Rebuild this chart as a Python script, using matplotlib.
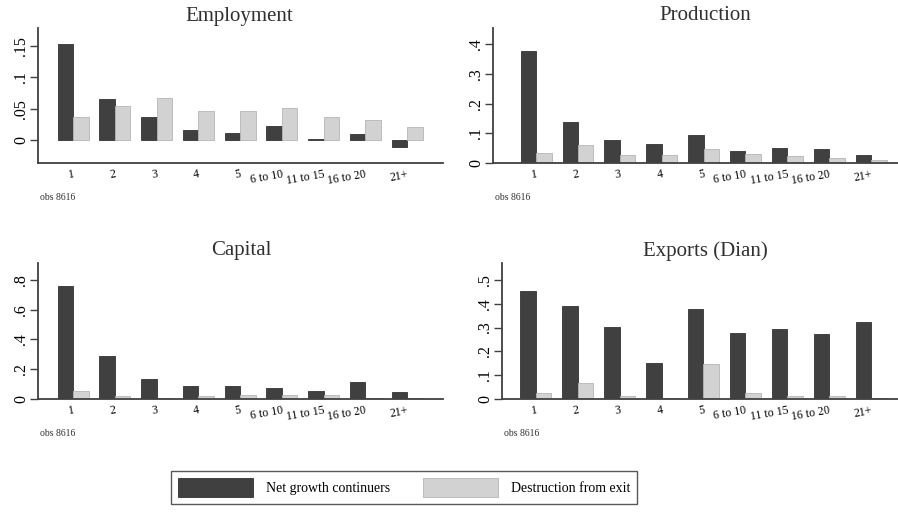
import numpy as np
import matplotlib.pyplot as plt
from matplotlib.patches import Patch

plt.rcParams['font.family'] = ['Liberation Serif', 'DejaVu Serif']

cats = ["1", "2", "3", "4", "5", "6 to 10", "11 to 15", "16 to 20", "21+"]

emp_net = [0.153, 0.065, 0.037, 0.0165, 0.012, 0.022, 0.002, 0.010, -0.011]
emp_exit = [0.036, 0.055, 0.067, 0.046, 0.046, 0.051, 0.036, 0.032, 0.021]

prod_net = [0.379, 0.138, 0.077, 0.065, 0.095, 0.042, 0.052, 0.047, 0.027]
prod_exit = [0.035, 0.060, 0.027, 0.027, 0.048, 0.030, 0.022, 0.018, 0.010]

cap_net = [0.760, 0.289, 0.132, 0.090, 0.090, 0.072, 0.056, 0.116, 0.047]
cap_exit = [0.056, 0.022, 0.005, 0.020, 0.030, 0.030, 0.030, 0.005, 0.007]

exp_net = [0.454, 0.389, 0.304, 0.153, 0.378, 0.276, 0.293, 0.272, 0.325]
exp_exit = [0.024, 0.066, 0.014, 0.005, 0.147, 0.024, 0.014, 0.013, 0.005]

dark = '#404040'
light = '#d2d2d2'

W, H = 898, 512
fig = plt.figure(figsize=(W / 100, H / 100), dpi=100)


def px_axes(left, top, right, bottom):
    return fig.add_axes([left / W, 1 - bottom / H, (right - left) / W, (bottom - top) / H])


def panel(box, title, title_x, net, ext, ylim, yticks, ylabels, xlim, obs_y):
    ax = px_axes(*box)
    x = np.arange(len(cats))
    bw = 0.37
    ax.bar(x - bw / 2, net, bw, color=dark, edgecolor='#333333', linewidth=0.6)
    ax.bar(x + bw / 2, ext, bw, color=light, edgecolor='#b5b5b5', linewidth=0.6)
    ax.set_ylim(*ylim)
    ax.set_xlim(*xlim)
    ax.set_yticks(yticks, ylabels)
    ax.tick_params(axis='y', length=6, width=1, color='#404040', pad=0.5,
                   labelsize=11.5, labelrotation=90)
    for t in ax.get_yticklabels():
        t.set_va('center')
    ax.set_xticks(x + 0.0, cats)
    ax.tick_params(axis='x', length=0, pad=4, labelsize=8.5)
    for t in ax.get_xticklabels():
        t.set_rotation(10)
        t.set_ha('right')
        t.set_rotation_mode('anchor')
    for s in ['top', 'right']:
        ax.spines[s].set_visible(False)
    for s in ['left', 'bottom']:
        ax.spines[s].set_color('#404040')
        ax.spines[s].set_linewidth(1.3)
    fig.text(title_x / W, 1 - (box[1] - 12) / H, title, ha='center', va='center',
             fontsize=15, color='#303030')
    fig.text((box[0] + 2) / W, 1 - obs_y / H, 'obs 8616', ha='left', va='center',
             fontsize=7, color='#303030')
    return ax


panel((38, 28, 443, 163), 'Employment', 239, emp_net, emp_exit, (-0.0367, 0.179),
      [0, 0.05, 0.1, 0.15], ['0', '.05', '.1', '.15'], (-0.84, 8.86), 197)
panel((493, 28, 905, 163), 'Production', 705, prod_net, prod_exit, (0, 0.455),
      [0, 0.1, 0.2, 0.3, 0.4], ['0', '.1', '.2', '.3', '.4'], (-1.03, 8.81), 197)
panel((38, 263, 443, 399), 'Capital', 241, cap_net, cap_exit, (0, 0.914),
      [0, 0.2, 0.4, 0.6, 0.8], ['0', '.2', '.4', '.6', '.8'], (-0.84, 8.86), 433)
panel((502, 263, 905, 399), 'Exports (Dian)', 705, exp_net, exp_exit, (0, 0.571),
      [0, 0.1, 0.2, 0.3, 0.4, 0.5], ['0', '.1', '.2', '.3', '.4', '.5'],
      (-0.81, 8.81), 433)

handles = [Patch(facecolor=dark, edgecolor='#333333', linewidth=0.6),
           Patch(facecolor=light, edgecolor='#b5b5b5', linewidth=0.6)]
leg = fig.legend(handles, ['Net growth continuers', 'Destruction from exit'],
                 loc='center', bbox_to_anchor=(404 / W, 1 - 487.5 / H), ncol=2,
                 fontsize=10, frameon=True, fancybox=False, handlelength=5.4,
                 handleheight=1.8, handletextpad=0.93, columnspacing=2.4,
                 borderpad=0.5)
leg.get_frame().set_edgecolor('#303030')
leg.get_frame().set_linewidth(1.0)

fig.savefig('out.png', dpi=100)
